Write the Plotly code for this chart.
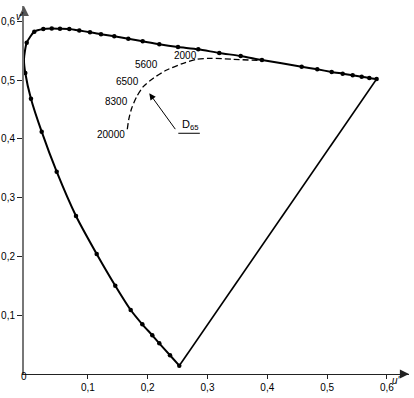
import plotly.graph_objects as go

# Spectral locus (u', v'), from the violet end up and over to the red end
u_locus = [0.2528, 0.2373, 0.2194, 0.2077, 0.1910, 0.1716, 0.1458, 0.1147, 0.0801, 0.0478,
           0.0227, 0.0048, -0.0047, -0.0069, -0.0023, 0.0104, 0.0254, 0.0395, 0.0533, 0.0689,
           0.0856, 0.1035, 0.1219, 0.1441, 0.1676, 0.1916, 0.2194, 0.2507, 0.2846, 0.3197,
           0.3555, 0.3911, 0.4575, 0.4836, 0.5077, 0.5261, 0.5428, 0.5579, 0.5706, 0.5829]
v_locus = [0.0151, 0.0328, 0.0531, 0.0667, 0.0854, 0.1097, 0.1509, 0.2048, 0.2693, 0.3445,
           0.4124, 0.4684, 0.5121, 0.5353, 0.5635, 0.5822, 0.5868, 0.5876, 0.5873, 0.5868,
           0.5842, 0.5812, 0.5778, 0.5744, 0.5703, 0.5659, 0.5608, 0.5562, 0.5523, 0.5460,
           0.5409, 0.5341, 0.5228, 0.5183, 0.5138, 0.5109, 0.5081, 0.5058, 0.5036, 0.5019]

# Planckian (black body) locus, dashed
u_planck = [0.1659, 0.1687, 0.1732, 0.1816, 0.1926, 0.2094, 0.2318, 0.2595, 0.2819, 0.3042, 0.3431, 0.3933]
v_planck = [0.4165, 0.4351, 0.4521, 0.4718, 0.4888, 0.5031, 0.5171, 0.5285, 0.5353, 0.5370, 0.5353, 0.5329]

# Colour temperature labels
temp_labels = ["2000", "5600", "6500", "8300", "20000"]

# D65 white point (target of the arrow)
d65_u, d65_v = 0.2027, 0.4776

# Axis ticks
tick_vals = [0.1, 0.2, 0.3, 0.4, 0.5, 0.6]
tick_text = ["0,1", "0,2", "0,3", "0,4", "0,5", "0,6"]

FONT = "Liberation Sans, Arial, Helvetica, sans-serif"

fig = go.Figure()

# purple line (straight, no markers) from violet end to red end
fig.add_trace(go.Scatter(
    x=[u_locus[0], u_locus[-1]], y=[v_locus[0], v_locus[-1]],
    mode="lines", line=dict(color="black", width=1.6),
    hoverinfo="skip", showlegend=False, cliponaxis=False))

# spectral locus
fig.add_trace(go.Scatter(
    x=u_locus, y=v_locus, mode="lines+markers",
    line=dict(color="black", width=2, shape="spline", smoothing=0.6),
    marker=dict(color="black", size=4.5),
    showlegend=False, cliponaxis=False))

# Planckian locus
fig.add_trace(go.Scatter(
    x=u_planck, y=v_planck, mode="lines",
    line=dict(color="black", width=1.3, dash="6px,3px", shape="spline", smoothing=0.8),
    showlegend=False))

annotations = []

# temperature label placements (u', v') of the label centres
label_pos = [(0.2640, 0.5418), (0.1972, 0.5265), (0.1654, 0.4968), (0.1478, 0.4637), (0.1386, 0.4068)]
for txt, (lx, ly) in zip(temp_labels, label_pos):
    annotations.append(dict(x=lx, y=ly, xref="x", yref="y", text=txt, showarrow=False,
                            font=dict(family=FONT, size=10, color="black")))

# D65 arrow and label
tail_u, tail_v = 0.2512, 0.4097
annotations.append(dict(x=d65_u, y=d65_v, xref="x", yref="y", ax=tail_u, ay=tail_v,
                        axref="x", ayref="y", text=" ", showarrow=True,
                        arrowhead=2, arrowsize=1.3, arrowwidth=1, arrowcolor="black"))
annotations.append(dict(x=0.2724, y=0.4234, xref="x", yref="y", text="D<sub>65</sub>",
                        showarrow=False, font=dict(family=FONT, size=11, color="black")))

# axis arrowheads
annotations.append(dict(x=1, y=0, xref="paper", yref="paper", ax=-12, ay=0, text=" ",
                        showarrow=True, arrowhead=2, arrowsize=1.4, arrowwidth=1.3,
                        arrowcolor="#222"))
annotations.append(dict(x=0, y=1, xref="paper", yref="paper", ax=0, ay=12, text=" ",
                        showarrow=True, arrowhead=2, arrowsize=1.1, arrowwidth=1.8,
                        arrowcolor="#555"))

# axis names and origin (placed in pixels, converted to paper coords below)
px_labels = [(403, 388, "<i>u'</i>"), (14, 9, "<i>v'</i>"), (19, 384, "0")]

W, H = 414, 398
L, R, T, B = 24, 5, 6, 24
pw, ph = W - L - R, H - T - B
for (px, py, txt) in px_labels:
    annotations.append(dict(x=(px - L) / pw, y=1 - (py - T) / ph, xref="paper", yref="paper",
                            text=txt, showarrow=False,
                            font=dict(family=FONT, size=10, color="black")))

fig.update_layout(
    width=W, height=H,
    margin=dict(l=L, r=R, t=T, b=B, autoexpand=False),
    paper_bgcolor="white", plot_bgcolor="white",
    font=dict(family=FONT, size=10, color="black"),
    annotations=annotations,
    shapes=[dict(type="line", xref="x", yref="y", x0=tail_u, y0=tail_v,
                 x1=tail_u + 0.036, y1=tail_v, line=dict(color="black", width=1))],
    xaxis=dict(range=[-0.00686, 0.6370], tickvals=tick_vals, ticktext=tick_text,
               automargin=False,
               showgrid=False, zeroline=False, showline=True, linecolor="#222",
               linewidth=1.3, ticks="outside", ticklen=4, tickcolor="#222",
               tickfont=dict(family=FONT, size=10, color="black")),
    yaxis=dict(range=[0.001, 0.6258], tickvals=tick_vals, ticktext=tick_text,
               automargin=False,
               showgrid=False, zeroline=False, showline=True, linecolor="#777",
               linewidth=2, ticks="outside", ticklen=5, tickcolor="#222",
               tickfont=dict(family=FONT, size=10, color="black")),
)

fig.write_html("out.html", config={"displayModeBar": False},
               post_script="document.body.style.margin='0';document.body.style.overflow='hidden';")
